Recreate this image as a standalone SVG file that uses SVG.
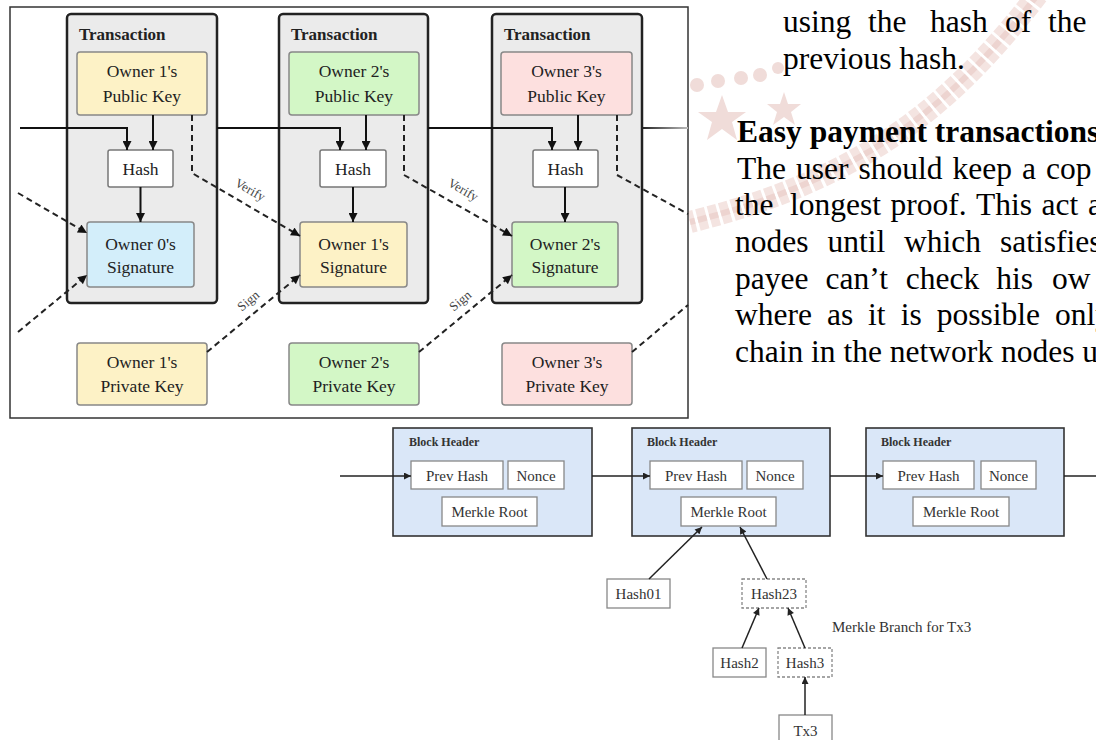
<svg xmlns="http://www.w3.org/2000/svg" width="1096" height="740" viewBox="0 0 1096 740">
<style>
.tx{fill:#ebebeb;stroke:#222;stroke-width:2.5}
.yel{fill:#fdf2c6;stroke:#888;stroke-width:1.5}
.grn{fill:#d3f7c6;stroke:#888;stroke-width:1.5}
.pnk{fill:#fde0df;stroke:#888;stroke-width:1.5}
.blu{fill:#d3eefa;stroke:#888;stroke-width:1.5}
.wht{fill:#fff;stroke:#777;stroke-width:1.5}
.lbl{font-family:"Liberation Serif","Times New Roman",serif;font-size:17.5px;fill:#222;text-anchor:middle}
.ttl{font-family:"Liberation Serif","Times New Roman",serif;font-size:17px;font-weight:bold;fill:#222}
.sm{font-family:"Liberation Serif","Times New Roman",serif;font-size:13px;fill:#444;text-anchor:middle}
.solid{fill:none;stroke:#111;stroke-width:2}
.dash{fill:none;stroke:#222;stroke-width:2;stroke-dasharray:6 4}
.blk{fill:#dae7f8;stroke:#333;stroke-width:1.6}
.ibox{fill:#fff;stroke:#888;stroke-width:1.3}
.dbox{fill:#fff;stroke:#888;stroke-width:1.3;stroke-dasharray:3 2}
.bl{font-family:"Liberation Serif","Times New Roman",serif;font-size:15px;fill:#333;text-anchor:middle}
.bls{font-family:"Liberation Serif","Times New Roman",serif;font-size:15px;fill:#333}
.bh{font-family:"Liberation Serif","Times New Roman",serif;font-size:12px;font-weight:bold;fill:#333}
.bar{fill:none;stroke:#222;stroke-width:1.5}
.body{font-family:"Liberation Serif","Times New Roman",serif;font-size:31.5px;fill:#000}
.wm{fill:#f0dcd9}
</style>
<defs>
<marker id="ah" viewBox="0 0 10 10" refX="10" refY="5" markerWidth="10" markerHeight="9" markerUnits="userSpaceOnUse" orient="auto">
<path d="M0,0 L10,5 L0,10 z" fill="#111"/>
</marker>
<marker id="ah2" viewBox="0 0 10 10" refX="10" refY="5" markerWidth="8" markerHeight="7" markerUnits="userSpaceOnUse" orient="auto">
<path d="M0,0 L10,5 L0,10 z" fill="#222"/>
</marker>
<linearGradient id="fadeR" gradientUnits="objectBoundingBox" x1="0" y1="0" x2="1" y2="0">
<stop offset="0" stop-color="#222"/><stop offset="1" stop-color="#bbb"/>
</linearGradient>
<linearGradient id="fadeL" gradientUnits="objectBoundingBox" x1="0" y1="0" x2="1" y2="0">
<stop offset="0" stop-color="#ccc"/><stop offset="1" stop-color="#222"/>
</linearGradient>
</defs>

<!-- watermark -->
<g id="watermark">
<path d="M1045,-15 C965,90 880,175 690,222" fill="none" stroke="#f4e4e1" stroke-width="22" stroke-dasharray="9 3"/>
<path d="M1045,-15 C965,90 880,175 690,222" fill="none" stroke="#edd4d0" stroke-width="6" stroke-dasharray="9 3"/>
<circle class="wm" cx="697" cy="85" r="7"/>
<circle class="wm" cx="718" cy="81" r="7"/>
<circle class="wm" cx="741" cy="78" r="7"/>
<circle class="wm" cx="760" cy="75" r="7"/>
<circle class="wm" cx="778" cy="68" r="6"/>
<polygon class="wm" points="722,95 728,112 746,112 732,122 737,140 722,129 707,140 712,122 698,112 716,112"/>
<polygon class="wm" points="784,92 788,104 801,104 791,112 795,125 784,117 773,125 777,112 767,104 780,104"/>
</g>

<!-- body text -->
<g id="text">
<text class="body" y="32"><tspan x="783">using</tspan><tspan x="868">the</tspan><tspan x="930">hash</tspan><tspan x="1005">of</tspan><tspan x="1048">the</tspan></text>
<text class="body" x="783" y="68.5">previous hash.</text>
<text class="body" x="737" y="142" font-weight="bold">Easy payment transactions</text>
<text class="body" y="178.5"><tspan x="737">The</tspan><tspan x="796">user</tspan><tspan x="858.5">should</tspan><tspan x="952.5">keep</tspan><tspan x="1022">a</tspan><tspan x="1046">cop</tspan></text>
<text class="body" y="215"><tspan x="735">the</tspan><tspan x="790">longest</tspan><tspan x="890.5">proof.</tspan><tspan x="976">This</tspan><tspan x="1041.5">act</tspan><tspan x="1088">a</tspan></text>
<text class="body" y="252"><tspan x="735">nodes</tspan><tspan x="827.4">until</tspan><tspan x="904">which</tspan><tspan x="1000">satisfies</tspan></text>
<text class="body" y="288.5"><tspan x="735">payee</tspan><tspan x="825.6">can’t</tspan><tspan x="905.7">check</tspan><tspan x="996.3">his</tspan><tspan x="1052">ow</tspan></text>
<text class="body" y="325"><tspan x="735">where</tspan><tspan x="827">as</tspan><tspan x="868">it</tspan><tspan x="900.7">is</tspan><tspan x="936.7">possible</tspan><tspan x="1055">only</tspan></text>
<text class="body" x="735" y="362">chain in the network nodes u</text>
</g>

<!-- top diagram -->
<g id="frame"><rect x="10" y="7" width="678" height="411" fill="#fff" stroke="#333" stroke-width="1.5"/></g>

<g id="tx1"><rect class="tx" x="67" y="14" width="150" height="289" rx="4"/><text class="ttl" x="79" y="40">Transaction</text></g>
<g id="tx2"><rect class="tx" x="279" y="14" width="149" height="289" rx="4"/><text class="ttl" x="291" y="40">Transaction</text></g>
<g id="tx3"><rect class="tx" x="492" y="14" width="150" height="289" rx="4"/><text class="ttl" x="504" y="40">Transaction</text></g>

<g id="pub1"><rect class="yel" x="77" y="52" width="130" height="63" rx="3"/><text class="lbl" x="142" y="77">Owner 1's</text><text class="lbl" x="142" y="102">Public Key</text></g>
<g id="pub2"><rect class="grn" x="289" y="52" width="130" height="63" rx="3"/><text class="lbl" x="354" y="77">Owner 2's</text><text class="lbl" x="354" y="102">Public Key</text></g>
<g id="pub3"><rect class="pnk" x="501" y="52" width="131" height="63" rx="3"/><text class="lbl" x="566.5" y="77">Owner 3's</text><text class="lbl" x="566.5" y="102">Public Key</text></g>

<g id="hash1"><rect class="wht" x="108" y="150" width="65" height="37" rx="2"/><text class="lbl" x="140.5" y="175">Hash</text></g>
<g id="hash2"><rect class="wht" x="320" y="150" width="66" height="37" rx="2"/><text class="lbl" x="353" y="175">Hash</text></g>
<g id="hash3"><rect class="wht" x="533" y="150" width="65" height="37" rx="2"/><text class="lbl" x="565.5" y="175">Hash</text></g>

<g id="sig0"><rect class="blu" x="87" y="222" width="107" height="65" rx="3"/><text class="lbl" x="140.5" y="250">Owner 0's</text><text class="lbl" x="140.5" y="273">Signature</text></g>
<g id="sig1"><rect class="yel" x="300" y="222" width="107" height="65" rx="3"/><text class="lbl" x="353.5" y="250">Owner 1's</text><text class="lbl" x="353.5" y="273">Signature</text></g>
<g id="sig2"><rect class="grn" x="512" y="222" width="106" height="65" rx="3"/><text class="lbl" x="565" y="250">Owner 2's</text><text class="lbl" x="565" y="273">Signature</text></g>

<g id="priv1"><rect class="yel" x="77" y="343" width="130" height="62" rx="3"/><text class="lbl" x="142" y="368">Owner 1's</text><text class="lbl" x="142" y="392">Private Key</text></g>
<g id="priv2"><rect class="grn" x="289" y="343" width="130" height="62" rx="3"/><text class="lbl" x="354" y="368">Owner 2's</text><text class="lbl" x="354" y="392">Private Key</text></g>
<g id="priv3"><rect class="pnk" x="502" y="343" width="130" height="62" rx="3"/><text class="lbl" x="567" y="368">Owner 3's</text><text class="lbl" x="567" y="392">Private Key</text></g>

<g id="connectors">
<path class="solid" d="M20,128 H127 V150" marker-end="url(#ah)"/>
<path class="solid" d="M153,115 V150" marker-end="url(#ah)"/>
<path class="solid" d="M140.5,187 V222" marker-end="url(#ah)"/>
<path class="solid" d="M217,128 H340 V150" marker-end="url(#ah)"/>
<path class="solid" d="M366,115 V150" marker-end="url(#ah)"/>
<path class="solid" d="M353,187 V222" marker-end="url(#ah)"/>
<path class="solid" d="M428,128 H552 V150" marker-end="url(#ah)"/>
<path class="solid" d="M578,115 V150" marker-end="url(#ah)"/>
<path class="solid" d="M565,187 V222" marker-end="url(#ah)"/>
<line x1="642" y1="128" x2="688" y2="128.01" stroke="url(#fadeR)" stroke-width="2"/>

<path class="dash" d="M18,193 L87,233" stroke="url(#fadeL)" marker-end="url(#ah)"/>
<path class="dash" d="M18,332 L87,275" stroke="url(#fadeL)" marker-end="url(#ah)"/>
<path class="dash" d="M192,115 V173 L300,236" marker-end="url(#ah)"/>
<path class="dash" d="M404,115 V175 L512,236" marker-end="url(#ah)"/>
<path class="dash" d="M617,115 V175 L688,214" stroke="url(#fadeR)"/>
<path class="dash" d="M207,352 L300,275" marker-end="url(#ah)"/>
<path class="dash" d="M419,352 L512,275" marker-end="url(#ah)"/>
<path class="dash" d="M632,352 L688,305" stroke="url(#fadeR)"/>

<text class="sm" x="248" y="193.5" transform="rotate(30 248 193.5)">Verify</text>
<text class="sm" x="461" y="193.5" transform="rotate(30 461 193.5)">Verify</text>
<text class="sm" x="251" y="304" transform="rotate(-40 251 304)">Sign</text>
<text class="sm" x="463" y="304" transform="rotate(-40 463 304)">Sign</text>
</g>

<!-- bottom diagram -->
<g id="block1"><rect class="blk" x="393" y="428" width="199" height="108"/><text class="bh" x="409" y="446">Block Header</text>
<rect class="ibox" x="411" y="461" width="92" height="28"/><text class="bl" x="457" y="481">Prev Hash</text>
<rect class="ibox" x="508" y="461" width="56" height="28"/><text class="bl" x="536" y="481">Nonce</text>
<rect class="ibox" x="442" y="497" width="95" height="29"/><text class="bl" x="489.5" y="517">Merkle Root</text></g>
<g id="block2"><rect class="blk" x="632" y="428" width="198" height="108"/><text class="bh" x="647" y="446">Block Header</text>
<rect class="ibox" x="650" y="461" width="92" height="28"/><text class="bl" x="696" y="481">Prev Hash</text>
<rect class="ibox" x="747" y="461" width="56" height="28"/><text class="bl" x="775" y="481">Nonce</text>
<rect class="ibox" x="681" y="497" width="95" height="29"/><text class="bl" x="728.5" y="517">Merkle Root</text></g>
<g id="block3"><rect class="blk" x="866" y="428" width="198" height="108"/><text class="bh" x="881" y="446">Block Header</text>
<rect class="ibox" x="883" y="461" width="91" height="28"/><text class="bl" x="928.5" y="481">Prev Hash</text>
<rect class="ibox" x="981" y="461" width="55" height="28"/><text class="bl" x="1008.5" y="481">Nonce</text>
<rect class="ibox" x="913" y="497" width="96" height="29"/><text class="bl" x="961" y="517">Merkle Root</text></g>

<g id="hash01"><rect class="ibox" x="607" y="579" width="63" height="29"/><text class="bl" x="638.5" y="599">Hash01</text></g>
<g id="hash23"><rect class="dbox" x="742" y="579" width="64" height="29"/><text class="bl" x="774" y="599">Hash23</text></g>
<g id="hashb2"><rect class="ibox" x="713" y="648" width="53" height="29"/><text class="bl" x="739.5" y="668">Hash2</text></g>
<g id="hashb3"><rect class="dbox" x="778" y="648" width="54" height="29"/><text class="bl" x="805" y="668">Hash3</text></g>
<g id="tx3leaf"><rect class="ibox" x="779" y="715" width="53" height="30"/><text class="bl" x="805.5" y="736">Tx3</text></g>
<g id="branchlabel"><text class="bls" x="832" y="632">Merkle Branch for Tx3</text></g>

<g id="connectors2">
<path class="bar" d="M340,476 H411" marker-end="url(#ah2)"/>
<path class="bar" d="M592,476 H650" marker-end="url(#ah2)"/>
<path class="bar" d="M830,476 H883" marker-end="url(#ah2)"/>
<path class="bar" d="M1064,476 H1096"/>
<path class="bar" d="M649,579 L702,527" marker-end="url(#ah2)"/>
<path class="bar" d="M767,579 L740,527" marker-end="url(#ah2)"/>
<path class="bar" d="M742,648 L759,608" marker-end="url(#ah2)"/>
<path class="bar" d="M805,648 L788,608" marker-end="url(#ah2)"/>
<path class="bar" d="M805,715 V677" marker-end="url(#ah2)"/>
</g>
</svg>
